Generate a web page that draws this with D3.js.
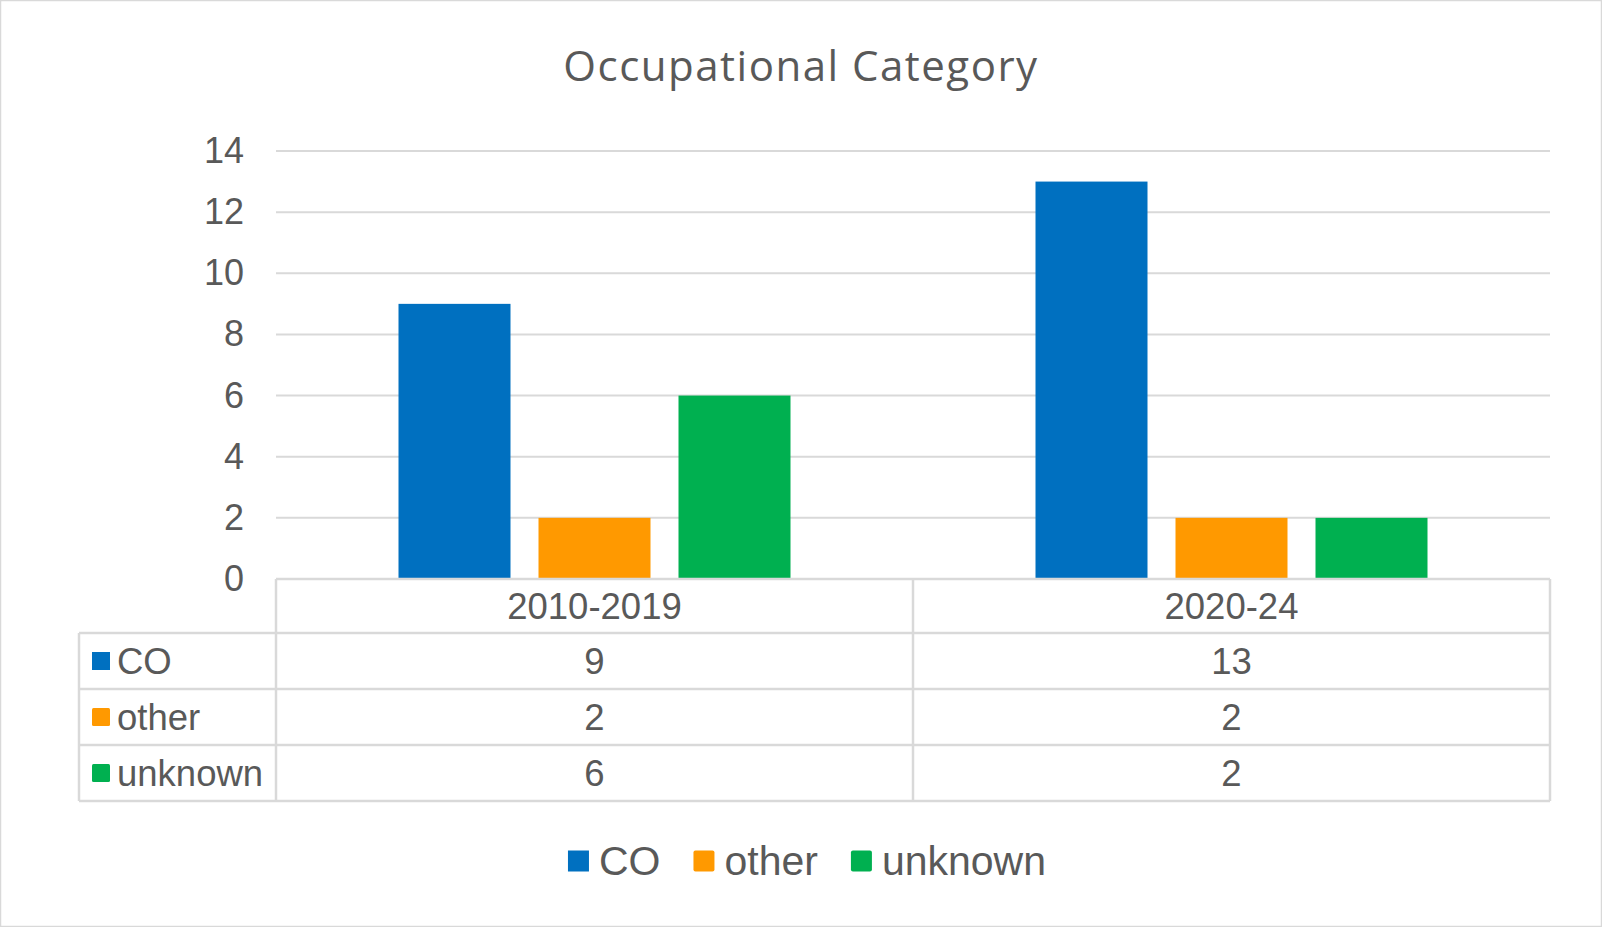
<!DOCTYPE html>
<html>
<head>
<meta charset="utf-8">
<script src="https://cdn.jsdelivr.net/npm/d3@7"></script>
<style>
  html, body { margin: 0; padding: 0; background: #fff; }
  svg { display: block; }
</style>
</head>
<body>
<div id="chart"></div>
<script>
// data
var categories = ["2010-2019", "2020-24"];
var series = ["CO", "other", "unknown"];
var seriesValues = {
  "CO": [9, 13],
  "other": [2, 2],
  "unknown": [6, 2]
};
var yTicks = [0, 2, 4, 6, 8, 10, 12, 14];
var colors = ["#0070C0", "#FF9900", "#00B050"];

var width = 1602, height = 927;
var textColor = "#595959", lineColor = "#d9d9d9";
var labelFont = "'Liberation Sans', Arial, sans-serif";

var plot = { left: 276, right: 1550, top: 151, bottom: 579 };
var tableLeft = 79;
var rowEdges = [579, 633, 689, 745, 801];

var svg = d3.select("#chart").append("svg")
  .attr("width", width)
  .attr("height", height);

svg.append("rect")
  .attr("x", 0.5).attr("y", 0.5)
  .attr("width", width - 1).attr("height", height - 1)
  .attr("fill", "#fff")
  .attr("stroke", lineColor)
  .attr("stroke-width", 1.5);

// title
svg.append("text")
  .attr("x", width / 2)
  .attr("y", 81)
  .attr("text-anchor", "middle")
  .attr("font-family", "'Open Sans', 'Noto Sans', sans-serif")
  .attr("font-size", 42)
  .attr("letter-spacing", 1.5)
  .attr("fill", textColor)
  .text("Occupational Category");

var y = d3.scaleLinear().domain([0, 14]).range([plot.bottom, plot.top]);
var x0 = d3.scaleBand().domain(categories).range([plot.left, plot.right]).padding(0);
var x1 = d3.scaleBand().domain(series).range([0, x0.bandwidth()])
  .paddingInner(0.2).paddingOuter(0.875);
var color = d3.scaleOrdinal().domain(series).range(colors);

// gridlines
svg.append("g")
  .selectAll("line")
  .data(yTicks.filter(function(d){ return d > 0; }))
  .enter().append("line")
    .attr("x1", plot.left).attr("x2", plot.right)
    .attr("y1", function(d){ return y(d); })
    .attr("y2", function(d){ return y(d); })
    .attr("stroke", lineColor)
    .attr("stroke-width", 2);

// y axis labels (no axis line, like Excel)
var yAxis = svg.append("g")
  .attr("transform", "translate(" + (plot.left - 32) + ",0)")
  .call(d3.axisLeft(y).tickValues(yTicks).tickSize(0).tickPadding(0));
yAxis.select(".domain").remove();
yAxis.selectAll("text")
  .attr("font-family", labelFont)
  .attr("font-size", 36)
  .attr("fill", textColor);

// bars
var groups = svg.append("g")
  .selectAll("g")
  .data(categories)
  .enter().append("g")
    .attr("transform", function(d){ return "translate(" + x0(d) + ",0)"; });

groups.selectAll("rect")
  .data(function(c, i){
    return series.map(function(s){ return { key: s, value: seriesValues[s][i] }; });
  })
  .enter().append("rect")
    .attr("x", function(d){ return x1(d.key); })
    .attr("y", function(d){ return y(d.value); })
    .attr("width", x1.bandwidth())
    .attr("height", function(d){ return y(0) - y(d.value); })
    .attr("fill", function(d){ return color(d.key); });

// data table
var table = svg.append("g")
  .attr("stroke", lineColor)
  .attr("stroke-width", 2.5)
  .attr("fill", "none");

rowEdges.forEach(function(ry, i){
  table.append("line")
    .attr("x1", i === 0 ? plot.left : tableLeft)
    .attr("x2", plot.right)
    .attr("y1", ry).attr("y2", ry);
});
var colEdges = [plot.left].concat(categories.map(function(c){ return x0(c) + x0.bandwidth(); }));
colEdges.forEach(function(cx){
  table.append("line")
    .attr("x1", cx).attr("x2", cx)
    .attr("y1", rowEdges[0]).attr("y2", rowEdges[rowEdges.length - 1]);
});
table.append("line")
  .attr("x1", tableLeft).attr("x2", tableLeft)
  .attr("y1", rowEdges[1]).attr("y2", rowEdges[rowEdges.length - 1]);

var cellText = svg.append("g")
  .attr("font-family", labelFont)
  .attr("font-size", 36.5)
  .attr("fill", textColor);

// header row: categories
cellText.selectAll(".cat")
  .data(categories)
  .enter().append("text")
    .attr("class", "cat")
    .attr("x", function(d){ return x0(d) + x0.bandwidth() / 2; })
    .attr("y", (rowEdges[0] + rowEdges[1]) / 2)
    .attr("dy", "0.35em")
    .attr("text-anchor", "middle")
    .text(function(d){ return d; });

series.forEach(function(s, r){
  var cy = (rowEdges[r + 1] + rowEdges[r + 2]) / 2;
  svg.append("rect")
    .attr("x", 92).attr("y", cy - 9)
    .attr("width", 18).attr("height", 18)
    .attr("rx", r === 0 ? 0 : 1.5)
    .attr("fill", color(s));
  cellText.append("text")
    .attr("x", 117)
    .attr("y", cy)
    .attr("dy", "0.35em")
    .text(s);
  cellText.selectAll(".v" + r)
    .data(seriesValues[s])
    .enter().append("text")
      .attr("class", "v" + r)
      .attr("x", function(d, i){ return x0(categories[i]) + x0.bandwidth() / 2; })
      .attr("y", cy)
      .attr("dy", "0.35em")
      .attr("text-anchor", "middle")
      .text(function(d){ return d; });
});

// bottom legend
var legend = svg.append("g");
var keySize = 21, keyGap = 10, itemGap = 33, legendY = 861;
var items = legend.selectAll("g")
  .data(series)
  .enter().append("g");
items.append("rect")
  .attr("width", keySize).attr("height", keySize)
  .attr("y", legendY - keySize / 2)
  .attr("rx", function(d, i){ return i === 0 ? 0 : 2; })
  .attr("fill", function(d){ return color(d); });
items.append("text")
  .attr("x", keySize + keyGap)
  .attr("y", legendY)
  .attr("dy", "0.35em")
  .attr("font-family", labelFont)
  .attr("font-size", 41)
  .attr("fill", textColor)
  .text(function(d){ return d; });

var offset = 0, widths = [];
items.each(function(){
  var w = keySize + keyGap + d3.select(this).select("text").node().getComputedTextLength();
  widths.push(w);
});
var total = d3.sum(widths) + itemGap * (widths.length - 1);
var start = width / 2 + 6 - total / 2;
items.attr("transform", function(d, i){
  var tx = start + offset;
  offset += widths[i] + itemGap;
  return "translate(" + tx + ",0)";
});
</script>
</body>
</html>
